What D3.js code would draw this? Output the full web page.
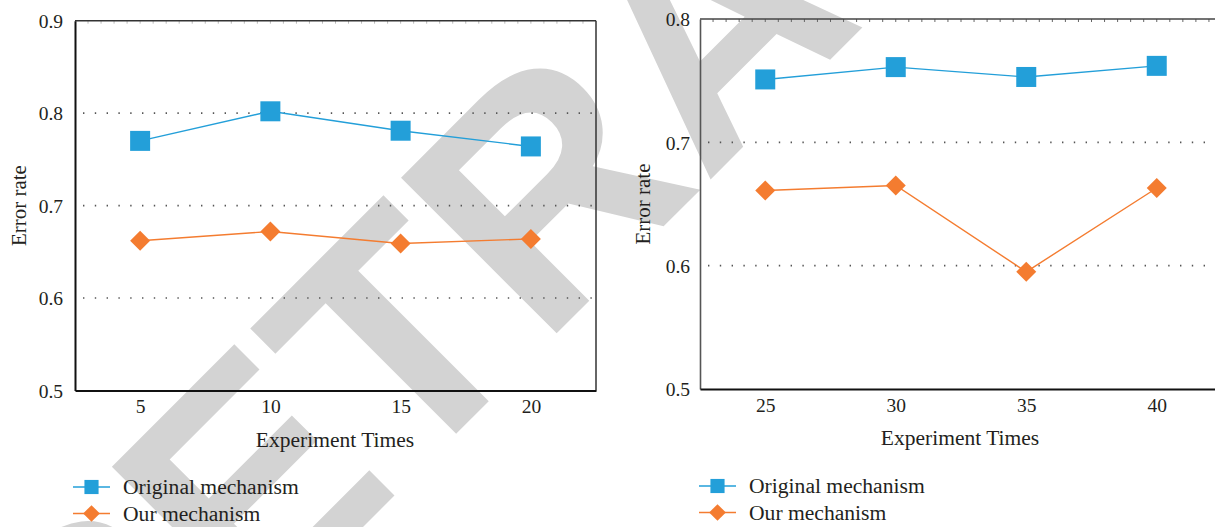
<!DOCTYPE html>
<html><head><meta charset="utf-8">
<script src="https://cdn.jsdelivr.net/npm/d3@7"></script>
<style>
html,body{margin:0;padding:0;background:#fff;overflow:hidden}
svg{display:block}
</style></head>
<body><svg id="c" width="1215" height="527"></svg>
<script>
// ---- data ----
const xLeft = [5, 10, 15, 20];
const originalLeft = [0.770, 0.802, 0.781, 0.764];
const oursLeft = [0.662, 0.672, 0.659, 0.664];
const xRight = [25, 30, 35, 40];
const originalRight = [0.751, 0.761, 0.753, 0.762];
const oursRight = [0.661, 0.665, 0.595, 0.663];
const yTicksLeft = [0.5, 0.6, 0.7, 0.8, 0.9];
const yTicksRight = [0.5, 0.6, 0.7, 0.8];
const gridLeft = [0.6, 0.7, 0.8];
const gridRight = [0.6, 0.7];
const seriesNames = ["Original mechanism", "Our mechanism"];
const xTitle = "Experiment Times";
const yTitle = "Error rate";
const watermark = "RETRACTED";

const BLUE = "#239fd9", ORANGE = "#f47c30", TXT = "#231f20";
const FONT = "'Liberation Serif','Times New Roman',serif";
const svg = d3.select("#c");

// watermark (behind chart)
svg.append("text")
  .attr("transform", "translate(89,801) rotate(-45)")
  .attr("font-family", "'Liberation Sans',Arial,sans-serif")
  .attr("font-weight", "bold")
  .attr("font-size", 320)
  .attr("fill", "#d3d3d3")
  .text(watermark);

function panel(o) {
  const g = svg.append("g");
  const x = d3.scaleLinear().domain(o.xDomain).range([o.left, o.right]);
  const y = d3.scaleLinear().domain(o.yDomain).range([o.bottom, o.top]);

  // gridlines
  g.selectAll(".grid").data(o.grid).join("line")
    .attr("x1", o.left + 8).attr("x2", Math.min(o.right, 1215))
    .attr("y1", d => y(d)).attr("y2", d => y(d))
    .attr("stroke", "#555").attr("stroke-width", 1.6)
    .attr("stroke-dasharray", "1.4,10.4");

  // top minor ticks
  const minor = d3.range(o.xDomain[0] + 0.5, o.xDomain[1], 0.5);
  g.selectAll(".mt").data(minor).join("line")
    .attr("x1", d => x(d)).attr("x2", d => x(d))
    .attr("y1", o.top).attr("y2", o.top + 3)
    .attr("stroke", o.minorColor).attr("stroke-width", 1);

  // frame
  g.append("line").attr("x1", o.left).attr("x2", Math.min(o.right, 1215)).attr("y1", o.top).attr("y2", o.top)
    .attr("stroke", o.topColor).attr("stroke-width", 1.6);
  if (o.rightBorder) {
    g.append("line").attr("x1", o.right).attr("x2", o.right).attr("y1", o.top).attr("y2", o.bottom)
      .attr("stroke", "#333").attr("stroke-width", 1.5);
  }

  // y axis
  const ya = g.append("g").attr("transform", `translate(${o.left},0)`)
    .call(d3.axisLeft(y).tickValues(o.yTicks).tickSize(0).tickPadding(o.yPad).tickFormat(d3.format(".1f")));
  ya.select(".domain").attr("stroke", o.leftColor).attr("stroke-width", o.leftWidth);
  ya.selectAll("text").attr("font-family", FONT).attr("font-size", 19.5).attr("fill", TXT).attr("dy", "0.35em");

  // x axis
  const xa = g.append("g").attr("transform", `translate(0,${o.bottom})`)
    .call(d3.axisBottom(x).tickValues(o.xTicks).tickSize(0).tickPadding(9).tickFormat(d3.format("d")));
  xa.select(".domain").attr("stroke", "#111").attr("stroke-width", 2.2);
  xa.selectAll("text").attr("font-family", FONT).attr("font-size", 19.5).attr("fill", TXT);

  // titles
  g.append("text").attr("x", o.xTitleX).attr("y", o.bottom + 56)
    .attr("text-anchor", "middle").attr("font-family", FONT).attr("font-size", 21.5).attr("fill", TXT)
    .text(xTitle);
  g.append("text").attr("transform", `translate(${o.yTitleX},${(o.top + o.bottom) / 2}) rotate(-90)`)
    .attr("text-anchor", "middle").attr("font-family", FONT).attr("font-size", 21).attr("fill", TXT)
    .text(yTitle);

  // series
  const series = [
    { vals: o.orig, color: BLUE, sym: "square" },
    { vals: o.ours, color: ORANGE, sym: "diamond" }
  ];
  const line = d3.line().x(d => x(d[0])).y(d => y(d[1]));
  series.forEach(s => {
    const pts = o.xs.map((xv, i) => [xv, s.vals[i]]);
    g.append("path").attr("d", line(pts)).attr("fill", "none")
      .attr("stroke", s.color).attr("stroke-width", 1.4);
    g.selectAll(null).data(pts).join("path")
      .attr("d", s.sym === "square" ? d3.symbol(d3.symbolSquare, 400)() : d3.symbol(d3.symbolSquare, 200)())
      .attr("transform", d => `translate(${x(d[0])},${y(d[1])})` + (s.sym === "diamond" ? " rotate(45)" : ""))
      .attr("fill", s.color);
  });

  // legend
  const lg = g.append("g");
  series.forEach((s, i) => {
    const ly = o.legY + i * 26.5;
    lg.append("line").attr("x1", o.legX).attr("x2", o.legX + 37).attr("y1", ly).attr("y2", ly)
      .attr("stroke", s.color).attr("stroke-width", 1.4);
    lg.append("path")
      .attr("d", s.sym === "square" ? d3.symbol(d3.symbolSquare, 200)() : d3.symbol(d3.symbolSquare, 140)())
      .attr("transform", `translate(${o.legX + 18.5},${ly})` + (s.sym === "diamond" ? " rotate(45)" : ""))
      .attr("fill", s.color);
    lg.append("text").attr("x", o.legX + 50).attr("y", ly + 7)
      .attr("font-family", FONT).attr("font-size", 21.6).attr("fill", TXT)
      .text(seriesNames[i]);
  });
}

panel({
  xDomain: [2.5, 22.5], yDomain: [0.5, 0.9],
  left: 75, right: 596, top: 20.7, bottom: 390.5,
  xs: xLeft, orig: originalLeft, ours: oursLeft,
  xTicks: xLeft, yTicks: yTicksLeft, grid: gridLeft,
  yPad: 12, leftColor: "#111", leftWidth: 2, topColor: "#333", minorColor: "#bbb",
  rightBorder: true, xTitleX: 335, yTitleX: 26,
  legX: 73, legY: 487
});
panel({
  xDomain: [22.5, 42.5], yDomain: [0.5, 0.8],
  left: 700, right: 1222, top: 19, bottom: 389,
  xs: xRight, orig: originalRight, ours: oursRight,
  xTicks: xRight, yTicks: yTicksRight, grid: gridRight,
  yPad: 10, leftColor: "#555", leftWidth: 1.6, topColor: "#444", minorColor: "#666",
  rightBorder: false, xTitleX: 960, yTitleX: 650,
  legX: 699, legY: 486
});
</script></body></html>
